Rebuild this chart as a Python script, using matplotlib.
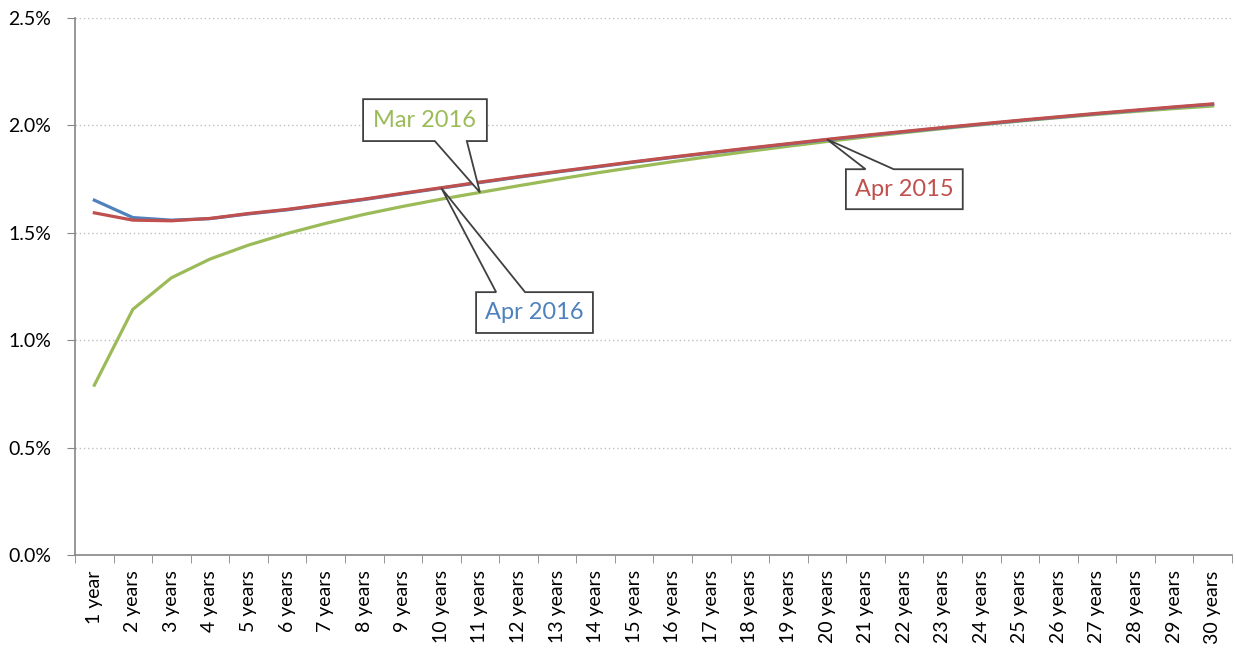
import matplotlib.pyplot as plt
from matplotlib.patches import Polygon
from matplotlib.ticker import FuncFormatter, MultipleLocator

plt.rcParams['font.family'] = ['Lato', 'DejaVu Sans']

# maturities
labels = ['1 year'] + ['%d years' % n for n in range(2, 31)]
maturity = list(range(1, 31))

# yields in %
apr_2015 = [1.592, 1.558, 1.555, 1.566, 1.589, 1.608, 1.632, 1.656, 1.683, 1.709,
            1.735, 1.760, 1.784, 1.807, 1.830, 1.852, 1.873, 1.894, 1.914, 1.934,
            1.953, 1.971, 1.989, 2.006, 2.023, 2.039, 2.055, 2.070, 2.085, 2.099]
apr_2016 = [1.651, 1.570, 1.558, 1.565, 1.587, 1.606, 1.630, 1.654, 1.681, 1.707,
            1.733, 1.758, 1.782, 1.805, 1.828, 1.850, 1.871, 1.892, 1.912, 1.932,
            1.951, 1.969, 1.987, 2.004, 2.021, 2.037, 2.053, 2.068, 2.083, 2.097]
mar_2016 = [0.790, 1.143, 1.290, 1.377, 1.442, 1.496, 1.543, 1.585, 1.622, 1.656,
            1.687, 1.718, 1.748, 1.777, 1.804, 1.830, 1.855, 1.879, 1.902, 1.924,
            1.945, 1.965, 1.984, 2.002, 2.019, 2.035, 2.050, 2.064, 2.077, 2.089]

c_blue = '#4F81BD'
c_red = '#C0504D'
c_green = '#9BBB59'

fig = plt.figure(figsize=(12.36, 6.56), dpi=100)
ax = fig.add_axes([0.0607, 0.154, 0.936, 0.819])

ax.plot(maturity, mar_2016, color=c_green, lw=2.3, zorder=3)
ax.plot(maturity, apr_2016, color=c_blue, lw=2.3, zorder=3)
ax.plot(maturity, apr_2015, color=c_red, lw=2.3, zorder=3)

ax.set_xlim(0.5, 30.5)
ax.set_ylim(0, 2.5)
ax.yaxis.set_major_locator(MultipleLocator(0.5))
ax.yaxis.set_major_formatter(FuncFormatter(lambda v, p: '%.1f%%' % v))
ax.grid(axis='y', color='#BFBFBF', ls=(0, (1, 2)), lw=1)
ax.set_axisbelow(True)

ax.set_xticks(maturity)
ax.set_xticklabels(labels, rotation=90)
ax.set_xticks([m - 0.5 for m in maturity] + [30.5], minor=True)
ax.tick_params(axis='x', which='major', length=0, pad=11, labelsize=14)
ax.tick_params(axis='x', which='minor', length=6, color='#868686')
ax.tick_params(axis='y', length=6, color='#868686', labelsize=14, pad=11)

for s in ['top', 'right']:
    ax.spines[s].set_visible(False)
for s in ['left', 'bottom']:
    ax.spines[s].set_color('#868686')
    ax.spines[s].set_linewidth(1.2)


def callout(box, base, tip, text, color):
    # box = (x0, x1, y0, y1) in data units; base = pointer base x range
    x0, x1, y0, y1 = box
    bx0, bx1 = base
    if tip[1] > y1:
        pts = [(x0, y0), (x1, y0), (x1, y1), (bx1, y1), tip, (bx0, y1), (x0, y1)]
    else:
        pts = [(x0, y1), (x1, y1), (x1, y0), (bx1, y0), tip, (bx0, y0), (x0, y0)]
    ax.add_patch(Polygon(pts, closed=True, facecolor='white', edgecolor='#404040',
                         lw=1.3, zorder=4))
    ax.text((x0 + x1) / 2, (y0 + y1) / 2, text, color=color, fontsize=17,
            ha='center', va='center', zorder=5)


callout((7.97, 11.18, 1.926, 2.121), (9.83, 10.66), (11, mar_2016[10]), 'Mar 2016', c_green)
callout((10.9, 13.93, 1.033, 1.223), (11.42, 12.17), (10, apr_2016[9]), 'Apr 2016', c_blue)
callout((20.49, 23.52, 1.609, 1.795), (21.0, 21.73), (20, apr_2015[19]), 'Apr 2015', c_red)

fig.savefig('out.png', dpi=100, facecolor='white')
